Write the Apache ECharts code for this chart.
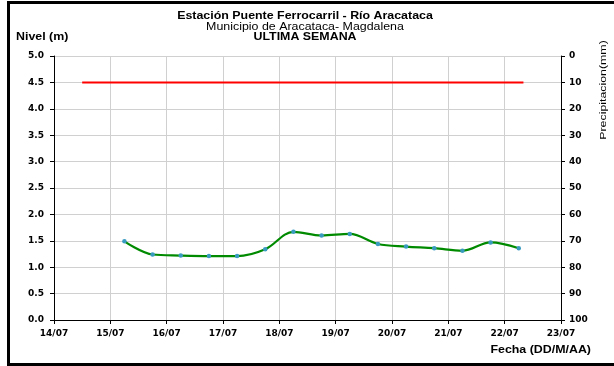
<!DOCTYPE html>
<html><head><meta charset="utf-8">
<script src="https://cdn.jsdelivr.net/npm/echarts@6/dist/echarts.min.js"></script>
<style>html,body{margin:0;padding:0;background:#fff}#c{width:614px;height:366px}</style>
</head><body><div id="c"></div>
<script>
// Data (DD/MM HH:mm)
const nivelTimes = ['15/07 06:00','15/07 18:00','16/07 06:00','16/07 18:00','17/07 06:00','17/07 18:00','18/07 06:00','18/07 18:00','19/07 06:00','19/07 18:00','20/07 06:00','20/07 18:00','21/07 06:00','21/07 18:00','22/07 06:00'];
const nivelValues = [1.49, 1.24, 1.22, 1.21, 1.21, 1.34, 1.67, 1.60, 1.63, 1.44, 1.39, 1.36, 1.31, 1.47, 1.36];
const alertTimes = ['14/07 12:00','22/07 08:00'];
const alertValues = [4.5, 4.5];
const xTickLabels = ['14/07','15/07','16/07','17/07','18/07','19/07','20/07','21/07','22/07','23/07'];
const leftTicks = ['0.0','0.5','1.0','1.5','2.0','2.5','3.0','3.5','4.0','4.5','5.0'];
const rightTicks = ['0','10','20','30','40','50','60','70','80','90','100'];

function toDay(s){ const [d, t] = s.split(' '); const day = parseInt(d.split('/')[0],10); const [h,m] = t.split(':').map(Number); return day + (h + m/60)/24; }
const xMin = parseInt(xTickLabels[0],10), xMax = parseInt(xTickLabels[xTickLabels.length-1],10);
const yMax = parseFloat(leftTicks[leftTicks.length-1]), yStep = parseFloat(leftTicks[1]);
const rMax = parseFloat(rightTicks[rightTicks.length-1]), rStep = parseFloat(rightTicks[1]);

const font = '"Liberation Sans", Arial, sans-serif';
const tickFont = '"DejaVu Sans", sans-serif';
const SX = 1.24;
const chart = echarts.init(document.getElementById('c'), null, {renderer:'canvas'});
chart.setOption({
  animation:false,
  backgroundColor:'#fff',
  textStyle:{fontFamily:font},
  graphic:[
    {type:'rect', shape:{x:8.5,y:2.5,width:620,height:362}, style:{fill:null,stroke:'#000',lineWidth:3}, silent:true, z:100},
    {type:'text', x:305, y:16.5, scaleX:SX, style:{text:'Estación Puente Ferrocarril - Río Aracataca', font:'bold 10px '+font, fill:'#000', align:'center', verticalAlign:'middle'}},
    {type:'text', x:305, y:27.5, scaleX:SX, style:{text:'Municipio de Aracataca- Magdalena', font:'10px '+font, fill:'#000', align:'center', verticalAlign:'middle'}},
    {type:'text', x:305, y:37.5, scaleX:SX, style:{text:'ULTIMA SEMANA', font:'bold 10px '+font, fill:'#000', align:'center', verticalAlign:'middle'}},
    {type:'text', x:16, y:37, scaleX:SX, style:{text:'Nivel (m)', font:'bold 10px '+font, fill:'#000', align:'left', verticalAlign:'middle'}},
    {type:'text', x:591, y:350, scaleX:SX, style:{text:'Fecha (DD/M/AA)', font:'bold 10px '+font, fill:'#000', align:'right', verticalAlign:'middle'}},
    {type:'text', x:603, y:90, rotation:Math.PI/2, scaleX:1.3, style:{text:'Precipitacion(mm)', font:'9.5px '+font, fill:'#000', align:'center', verticalAlign:'middle'}}
  ],
  grid:{left:54, right:53, top:56, bottom:46},
  xAxis:{type:'value', min:xMin, max:xMax, interval:1,
    axisLine:{lineStyle:{color:'#000',width:1}}, axisTick:{show:true,length:4,lineStyle:{color:'#000'}},
    axisLabel:{fontSize:9,fontWeight:'bold',color:'#000',margin:9,fontFamily:tickFont, formatter:(v)=>xTickLabels[Math.round(v)-xMin]},
    splitLine:{show:true,lineStyle:{color:'#d0d0d0',width:1}}},
  yAxis:[
    {type:'value', min:0, max:yMax, interval:yStep, position:'left',
      axisLine:{show:true,lineStyle:{color:'#000'}}, axisTick:{show:true,length:4,lineStyle:{color:'#000'}},
      axisLabel:{fontSize:9,fontWeight:'bold',color:'#000',margin:10,fontFamily:tickFont, formatter:(v)=>leftTicks[Math.round(v/yStep)]},
      splitLine:{show:true,lineStyle:{color:'#d0d0d0',width:1}}},
    {type:'value', min:0, max:rMax, interval:rStep, position:'right', inverse:true,
      axisLine:{show:true,lineStyle:{color:'#000'}}, axisTick:{show:true,length:4,lineStyle:{color:'#000'}},
      axisLabel:{fontSize:9,fontWeight:'bold',color:'#000',margin:8,fontFamily:tickFont, formatter:(v)=>rightTicks[Math.round(v/rStep)]},
      splitLine:{show:false}}
  ],
  series:[
    {type:'line', name:'Alerta', data:alertTimes.map((t,i)=>[toDay(t),alertValues[i]]), showSymbol:false, lineStyle:{color:'#ff0000',width:2}, yAxisIndex:0},
    {type:'line', name:'Nivel', data:nivelTimes.map((t,i)=>[toDay(t),nivelValues[i]]), smooth:0.35, symbol:'circle', symbolSize:4.5,
      itemStyle:{color:'#3a9bc0'}, lineStyle:{color:'#008a00',width:2.2}, yAxisIndex:0}
  ]
});
</script></body></html>
